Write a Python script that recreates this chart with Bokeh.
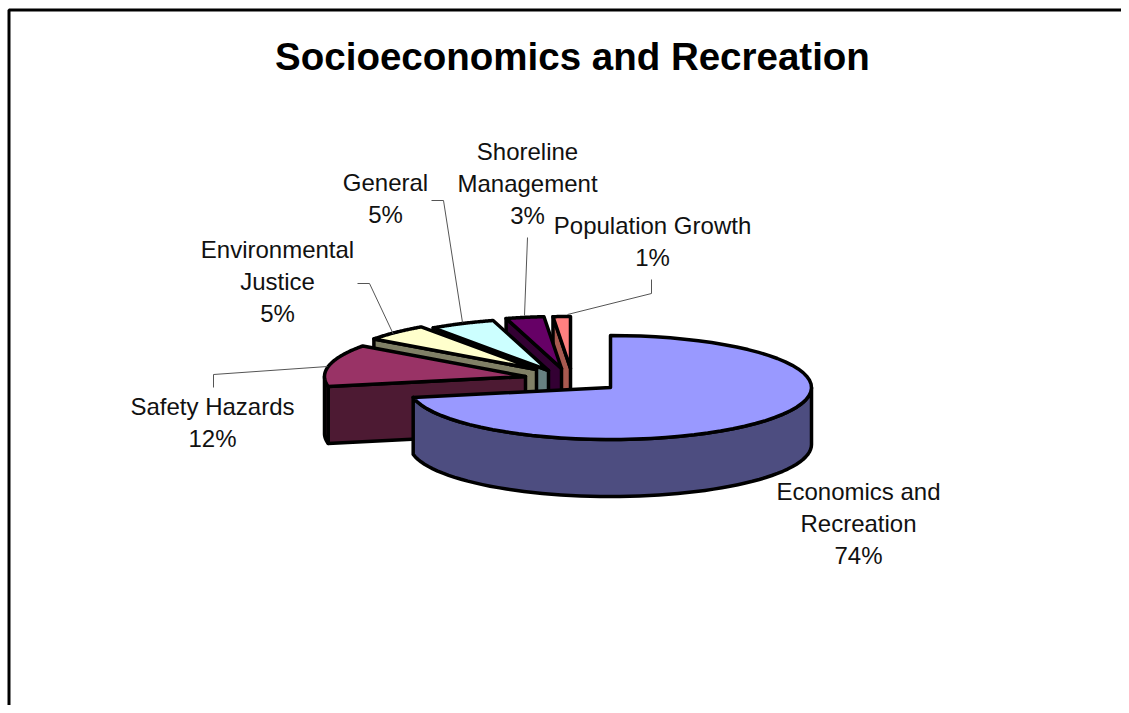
import math
from bokeh.plotting import figure
from bokeh.models import Range1d
from bokeh.core.properties import value
from bokeh.embed import file_html
from bokeh.resources import INLINE

TITLE = "Socioeconomics and Recreation"
categories = ["Economics and Recreation", "Safety Hazards", "Environmental Justice",
              "General", "Shoreline Management", "Population Growth"]
percent = [74, 12, 5, 5, 3, 1]

# Degrees the 3-D view adds to / removes from each slice's drawn sweep
perspective_adjust = [-7.4, 3.8, 1.0, 1.0, 0.2, 1.4]
top_colors = ["#9999FF", "#993366", "#FFFFCC", "#CCFFFF", "#660066", "#FF8080"]
wall_colors = ["#4D4D80", "#4D1A33", "#808066", "#668080", "#330033", "#A85A50"]
explode_x = [0, -85, -74, -62, -49, -40]
explode_y = [0, -11, -18, -17, -19, -19]

CX, CY, RX, RY, DEPTH = 610, 387, 201, 52, 57
LW = 3.5

label_lines = [["Economics and", "Recreation", "74%"], ["Safety Hazards", "12%"],
               ["Environmental", "Justice", "5%"], ["General", "5%"],
               ["Shoreline", "Management", "3%"], ["Population Growth", "1%"]]
label_x = [858, 212, 277, 385, 527, 652]
label_y = [491, 406, 249, 182, 151, 225]
LINE_H = 32

leader_x = [None, [327, 213, 213], [393, 369, 357], [462, 443, 431], [524, 527], [567, 651, 651]]
leader_y = [None, [366, 374, 387], [334, 283, 283], [322, 200, 200], [315, 237], [314, 293, 279]]

p = figure(width=1121, height=705, output_backend="svg", toolbar_location=None,
           x_range=Range1d(0, 1121), y_range=Range1d(705, 0),
           min_border=0, outline_line_color=None, background_fill_color="white")
p.axis.visible = False
p.grid.visible = False


def arc(cx, cy, a0, a1, n=60):
    pts = [a0 + (a1 - a0) * i / n for i in range(n + 1)]
    return ([cx + RX * math.sin(math.radians(t)) for t in pts],
            [cy - RY * math.cos(math.radians(t)) for t in pts])


# angular extents, clockwise from 12 o'clock
extents, a = [], 0.0
for v, adj in zip(percent, perspective_adjust):
    sweep = v * 3.6 + adj
    extents.append((a, a + sweep))
    a += sweep

style = dict(line_color="black", line_width=LW, line_join="round")

# back to front
for i in range(len(percent) - 1, -1, -1):
    a0, a1 = extents[i]
    cx, cy = CX + explode_x[i], CY + explode_y[i]
    if i > 0:  # radial wall along the slice's leading edge
        ex, ey = arc(cx, cy, a0, a0, 1)
        p.patch([cx, ex[0], ex[0], cx], [cy, ey[0], ey[0] + DEPTH, cy + DEPTH],
                fill_color=wall_colors[i], **style)
    # rim wall for the part of the arc that faces the viewer
    lo, hi = max(a0, 90), min(a1, 270)
    if hi > lo:
        ax, ay = arc(cx, cy, lo, hi)
        p.patch(ax + ax[::-1], ay + [y + DEPTH for y in ay[::-1]],
                fill_color=wall_colors[i], **style)
    tx, ty = arc(cx, cy, a0, a1)
    p.patch([cx] + tx, [cy] + ty, fill_color=top_colors[i], **style)

# leaders
for lx, ly in zip(leader_x, leader_y):
    if lx:
        p.line(lx, ly, line_color="#555555", line_width=1)

# labels
xs, ys, ts = [], [], []
for lines, x, y in zip(label_lines, label_x, label_y):
    for k, t in enumerate(lines):
        xs.append(x); ys.append(y + k * LINE_H); ts.append(t)
p.text(xs, ys, text=ts, text_font=value("Liberation Sans"), text_font_size="24px",
       text_align="center", text_baseline="middle", text_color="#111111")

p.text([572], [56], text=[TITLE], text_font=value("Liberation Sans"), text_font_size="38.5px",
       text_font_style="bold", text_align="center", text_baseline="middle", text_color="black")

# chart frame: only top and left edges fall inside the picture
p.line([8.5, 8.5, 1121], [705, 9.5, 9.5], line_color="black", line_width=3)

open("out.html", "w").write(file_html(p, INLINE))
